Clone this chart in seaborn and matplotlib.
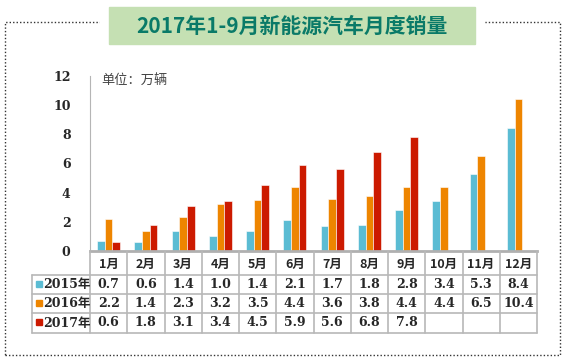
import matplotlib
matplotlib.use('Agg')
import matplotlib.pyplot as plt
from matplotlib.patches import Rectangle
from matplotlib.lines import Line2D
import seaborn as sns
import pandas as pd
import numpy as np

months = ['1月', '2月', '3月', '4月', '5月', '6月', '7月', '8月', '9月', '10月', '11月', '12月']
years = ['2015年', '2016年', '2017年']
sales_2015 = [0.7, 0.6, 1.4, 1.0, 1.4, 2.1, 1.7, 1.8, 2.8, 3.4, 5.3, 8.4]
sales_2016 = [2.2, 1.4, 2.3, 3.2, 3.5, 4.4, 3.6, 3.8, 4.4, 4.4, 6.5, 10.4]
sales_2017 = [0.6, 1.8, 3.1, 3.4, 4.5, 5.9, 5.6, 6.8, 7.8, None, None, None]
colors = ['#5bbcd3', '#ee8500', '#cc1a00']
yticks = [0, 2, 4, 6, 8, 10, 12]

series = [sales_2015, sales_2016, sales_2017]
df = pd.DataFrame({
    'month': months * 3,
    'year': [y for y in years for _ in months],
    'value': [np.nan if v is None else v for s in series for v in s],
})

sns.set_style('white')
plt.rcParams['font.family'] = ['Noto Sans CJK SC', 'DejaVu Sans']

W, H = 567, 360
fig = plt.figure(figsize=(W / 100, H / 100), dpi=100)


def fx(x):
    return x / W


def fy(y):
    return 1 - y / H


ax = fig.add_axes([fx(90), fy(251), (537 - 90) / W, (251 - 76) / H])
sns.barplot(data=df, x='month', y='value', hue='year', order=months, hue_order=years,
            palette=colors, saturation=1, width=0.62, edgecolor='white', linewidth=0.4,
            legend=False, ax=ax, zorder=2)
ax.set_xlim(-0.5, 11.5)
ax.set_ylim(0, 12)
ax.set_yticks(yticks)
ax.set_yticklabels([str(t) for t in yticks], family='DejaVu Serif', fontweight='bold', fontsize=9)
ax.set_xticks([])
ax.set_xlabel('')
ax.set_ylabel('')
for s in ['top', 'right']:
    ax.spines[s].set_visible(False)
ax.spines['left'].set_color('#b5b5b5')
ax.spines['bottom'].set_color('#b0b0b0')
ax.spines['bottom'].set_linewidth(2)
ax.tick_params(axis='y', direction='out', length=4, color='#b5b5b5', pad=10)
ax.text(0.025, 1.01, '单位：万辆', transform=ax.transAxes, fontsize=9.5, color='#444444',
        ha='left', va='top')

# data table under the chart
grid = '#b8b8b8'
rows_y = [275, 294, 313, 333]
for y in rows_y:
    fig.add_artist(Line2D([fx(32), fx(537)], [fy(y), fy(y)], color=grid, lw=1.2))
for i in range(13):
    x = 90 + i * (447 / 12)
    fig.add_artist(Line2D([fx(x), fx(x)], [fy(251), fy(333)], color=grid, lw=1.2))
fig.add_artist(Line2D([fx(32), fx(32)], [fy(275), fy(333)], color=grid, lw=1.2))

tr = ax.get_xaxis_transform()
for i, m in enumerate(months):
    ax.text(i, (251 - 264) / 175, m, transform=tr, ha='center', va='center',
            fontsize=9, fontweight='bold', clip_on=False)

for r, (yr, vals, c) in enumerate(zip(years, series, colors)):
    yc = (rows_y[r] + rows_y[r + 1]) / 2
    fig.add_artist(Rectangle((fx(36), fy(yc + 2)), 6 / W, 6 / H, color=c,
                             transform=fig.transFigure))
    fig.text(fx(67), fy(yc), yr, ha='center', va='center', fontsize=9, fontweight='bold',
             family=['DejaVu Serif', 'Noto Sans CJK SC'])
    for i, v in enumerate(vals):
        if v is None:
            continue
        ax.text(i, (251 - yc) / 175, f'{v:.1f}', transform=tr, ha='center', va='center',
                fontsize=9, fontweight='bold', family='DejaVu Serif', clip_on=False)

# dotted frame and title box
fig.add_artist(Rectangle((fx(5), fy(355)), 555 / W, 333 / H, fill=False, ls=(0, (1, 1.5)),
                         ec='#333333', lw=1, transform=fig.transFigure, zorder=0))
fig.add_artist(Rectangle((fx(100), fy(46)), 384 / W, 40 / H, color='white',
                         transform=fig.transFigure, zorder=1))
fig.add_artist(Rectangle((fx(109), fy(44)), 366 / W, 37 / H, color='#c5e0b3',
                         transform=fig.transFigure, zorder=2))
fig.text(fx(292), fy(26), '2017年1-9月新能源汽车月度销量', ha='center', va='center',
         fontsize=15, fontweight='bold', color='#0a7a68', zorder=3)

fig.savefig('out.png', dpi=100)
